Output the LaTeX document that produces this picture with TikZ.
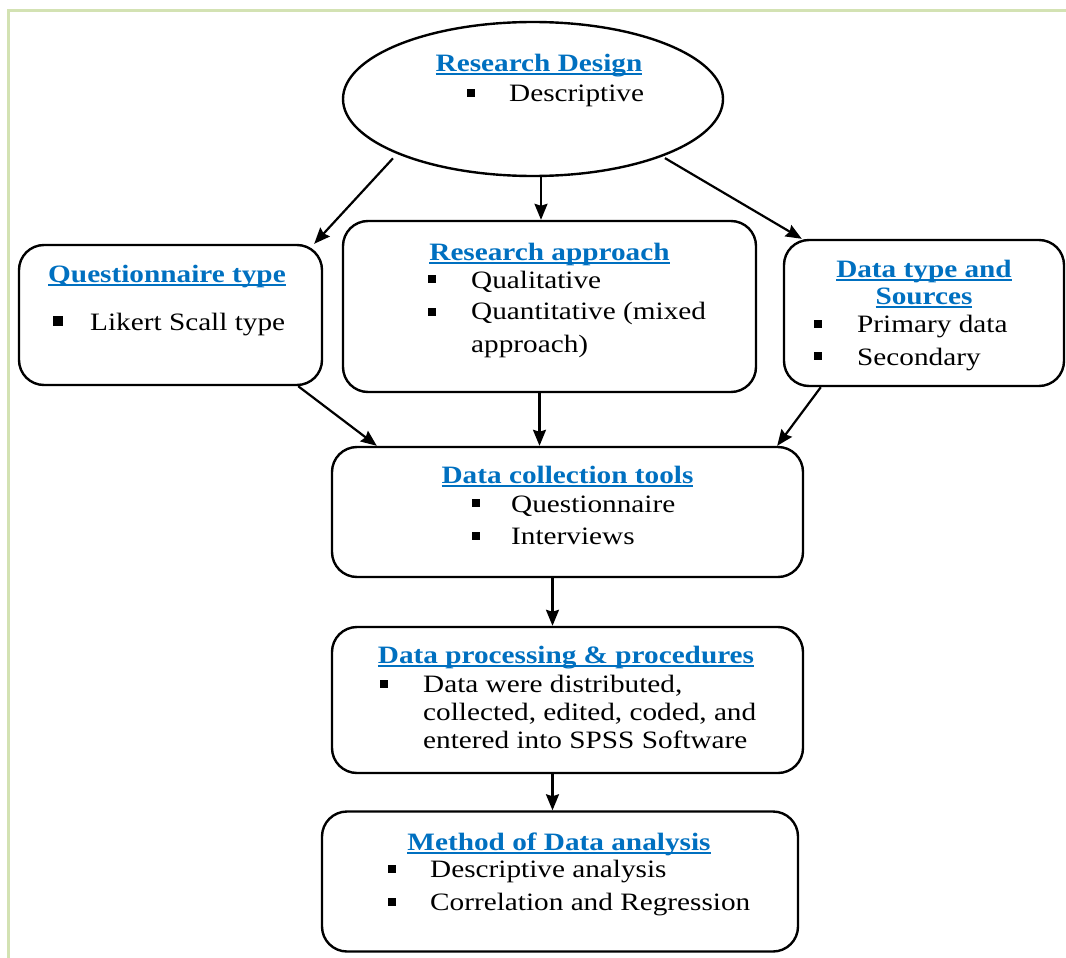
\documentclass[tikz,border=0pt]{standalone}
\usepackage{fontspec}
\setmainfont{Liberation Serif}[FakeStretch=1.17]
\usetikzlibrary{shapes.geometric, arrows.meta}
\definecolor{ttlblue}{HTML}{0070C0}
\definecolor{framegreen}{HTML}{D3E2B3}
\newcommand{\ulttl}[1]{\setbox0=\hbox{#1}\rlap{\rule[-4pt]{\wd0}{2pt}}\box0}

\begin{document}
\begin{tikzpicture}[x=1pt, y=-1pt]
	\tikzset{box/.style={draw, line width=2.4pt, rounded corners=25pt, inner sep=0},
		title/.style={anchor=base, inner sep=0, text=ttlblue, font=\fontsize{25}{30}\selectfont\bfseries},
		txt/.style={anchor=base west, inner sep=0, font=\fontsize{25}{30}\selectfont},
		arr/.style={-{Stealth[length=16pt,width=13pt,inset=2pt]}, line width=2.2pt}}
	
	\useasboundingbox (0,0) rectangle (1066,958);
	\draw[framegreen, line width=3pt] (8,958) -- (8,11) -- (1066,11);
	
	% shapes
	\node[draw, ellipse, line width=2.4pt, minimum width=380pt, minimum height=154pt, inner sep=0] (rd) at (533,99) {};
	\node[box, minimum width=303pt, minimum height=140pt] (qt) at (170.5,315) {};
	\node[box, minimum width=413pt, minimum height=171pt] (ra) at (549.5,306.5) {};
	\node[box, minimum width=280pt, minimum height=146pt] (dt) at (924,313) {};
	\node[box, minimum width=471pt, minimum height=130pt] (dc) at (567.5,512) {};
	\node[box, minimum width=471pt, minimum height=146pt] (dp) at (567.5,700) {};
	\node[box, minimum width=476pt, minimum height=140pt] (ma) at (560,881.5) {};
	
	% titles
	\node[title] (rdT) at (539,71) {\ulttl{Research Design}};
	\node[title] (qtT) at (167,282) {\ulttl{Questionnaire type}};
	\node[title] (raT) at (549.5,260) {\ulttl{Research approach}};
	\node[title] (dtT) at (924,277) {\ulttl{Data type and}};
	\node[title] (dtT2) at (924,304) {\ulttl{Sources}};
	\node[title] (dcT) at (567.5,483) {\ulttl{Data collection tools}};
	\node[title] (dpT) at (566,663) {\ulttl{Data processing \& procedures}};
	\node[title] (maT) at (559,850) {\ulttl{Method of Data analysis}};
	
	% list items
	\node[txt] (rd1) at (509,102) {Descriptive};
	\node[txt] (qt1) at (90,330) {Likert Scall type};
	\node[txt] (ra1) at (471,288) {Qualitative};
	\node[txt] (ra2) at (471,319) {Quantitative (mixed};
	\node[txt] (ra3) at (471,352) {approach)};
	\node[txt] (dt1) at (857,332) {Primary data};
	\node[txt] (dt2) at (857,365) {Secondary};
	\node[txt] (dc1) at (511,512) {Questionnaire};
	\node[txt] (dc2) at (511,544) {Interviews};
	\node[txt] (dp1) at (423,692) {Data were distributed,};
	\node[txt] (dp2) at (423,720) {collected, edited, coded, and};
	\node[txt] (dp3) at (423,748) {entered into SPSS Software};
	\node[txt] (ma1) at (430,877) {Descriptive analysis};
	\node[txt] (ma2) at (430,910) {Correlation and Regression};
	
	% square bullets
	\foreach \x/\y/\s in {471/93/8, 57.5/321/10, 432/279/8, 432/311.5/8, 818/324/8, 818/356/8,
		475.5/502.5/8, 475.5/536/8, 384/683.5/8, 391.5/868.5/8, 391.5/901.5/8}
	{
		\fill (\x-\s/2,\y-\s/2) rectangle ++(\s,\s);
	}
	
	% connectors
	\draw[arr, shorten <=6pt] (rd.202.8) -- ([xshift=-9pt]qt.north east);
	\draw[arr] ([xshift=8pt]rd.south) -- ([xshift=8pt]rd.south |- ra.north);
	\draw[arr, shorten <=3pt] (rd.336.3) -- ([xshift=19pt]dt.north west);
	\draw[arr] ([xshift=-25pt]qt.south east) -- ([xshift=46pt]dc.north west);
	\draw[arr] ([xshift=-10pt]ra.south) -- ([xshift=-10pt]ra.south |- dc.north);
	\draw[arr] ([xshift=38pt]dt.south west) -- ([xshift=-27pt]dc.north east);
	\draw[arr] ([xshift=-15pt]dc.south) -- ([xshift=-15pt]dc.south |- dp.north);
	\draw[arr] ([xshift=-15pt]dp.south) -- ([xshift=-15pt]dp.south |- ma.north);
\end{tikzpicture}
\end{document}
